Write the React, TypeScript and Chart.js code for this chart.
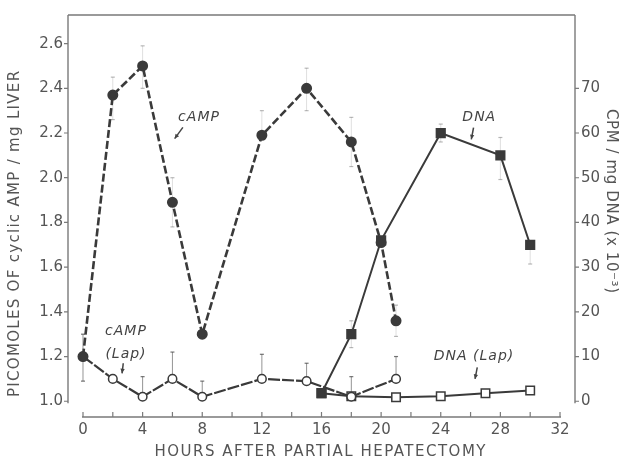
import React, { useEffect, useRef } from 'react';
import { Chart, registerables } from 'chart.js';

Chart.register(...registerables);

// ---- data ----
const campHours = [0, 2, 4, 6, 8, 12, 15, 18, 20, 21];
const campValues = [1.2, 2.37, 2.5, 1.89, 1.3, 2.19, 2.4, 2.16, 1.71, 1.36];
const campErrHigh = [null, 2.45, 2.59, 2.0, null, 2.3, 2.49, 2.27, null, 1.43];
const campErrLow = [null, 2.26, 2.4, 1.78, null, null, 2.3, 2.05, null, 1.29];

const campLapHours = [0, 2, 4, 6, 8, 12, 15, 18, 21];
const campLapValues = [1.2, 1.1, 1.02, 1.1, 1.02, 1.1, 1.09, 1.02, 1.1];
const campLapErrHigh = [1.3, null, 1.11, 1.22, 1.09, 1.21, 1.17, 1.11, 1.2];
const campLapErrLow = [1.09, null, null, null, null, null, null, null, null];

const dnaHours = [16, 18, 20, 24, 28, 30];
const dnaValues = [1.8, 15, 36, 60, 55, 35];
const dnaErrHigh = [null, 18, null, 62, 59, null];
const dnaErrLow = [null, 12, null, 58, 49.6, 30.7];

const dnaLapHours = [16, 18, 21, 24, 27, 30];
const dnaLapValues = [1.8, 1.1, 0.9, 1.1, 1.8, 2.4];

const hourTicks = [0, 2, 4, 6, 8, 10, 12, 14, 16, 18, 20, 22, 24, 26, 28, 30, 32];
const campTicks = [1.0, 1.2, 1.4, 1.6, 1.8, 2.0, 2.2, 2.4, 2.6];
const cpmTicks = [0, 10, 20, 30, 40, 50, 60, 70];

const xTitle = 'HOURS AFTER PARTIAL HEPATECTOMY';
const yLeftTitle = 'PICOMOLES OF cyclic AMP / mg LIVER';
const yRightTitle = 'CPM / mg DNA (x 10\u207B\u00B3)';

const INK = '#3a3a3a';
const TEXT = '#555555';
const AXIS = '#7a7a7a';
const FONT = '"DejaVu Sans", sans-serif';

const pts = (xs: number[], ys: number[]) => xs.map((x, i) => ({ x, y: ys[i] }));

const errorBars = [
  { axis: 'yL', xs: campHours, vals: campValues, hi: campErrHigh, lo: campErrLow, color: 'rgba(0,0,0,0.13)', cap: 'rgba(0,0,0,0.28)' },
  { axis: 'yL', xs: campLapHours, vals: campLapValues, hi: campLapErrHigh, lo: campLapErrLow, color: 'rgba(60,60,60,0.55)', cap: 'rgba(60,60,60,0.7)' },
  { axis: 'yR', xs: dnaHours, vals: dnaValues, hi: dnaErrHigh, lo: dnaErrLow, color: 'rgba(0,0,0,0.13)', cap: 'rgba(0,0,0,0.28)' },
];

const notes = [
  { axis: 'yL', lines: ['cAMP'], x: 7.75, y: 2.27, arrow: [6.7, 2.225, 6.15, 2.175] },
  { axis: 'yR', lines: ['DNA'], x: 26.55, y: 63.5, arrow: [26.2, 61.2, 26.05, 58.6] },
  { axis: 'yL', lines: ['cAMP', '(Lap)'], x: 2.85, y: 1.313, arrow: [2.7, 1.17, 2.62, 1.125] },
  { axis: 'yR', lines: ['DNA (Lap)'], x: 26.2, y: 10.1, arrow: [26.45, 7.6, 26.3, 5.0] },
];

const drawSpaced = (ctx: any, text: string, x: number, y: number, spacing: number) => {
  if ('letterSpacing' in ctx) {
    ctx.letterSpacing = `${spacing}px`;
    const w = ctx.measureText(text).width;
    ctx.textAlign = 'left';
    ctx.fillText(text, x - (w - spacing) / 2, y);
    ctx.letterSpacing = '0px';
  } else {
    ctx.textAlign = 'center';
    ctx.fillText(text, x, y);
  }
};

const decorPlugin = {
  id: 'decor',
  beforeDatasetsDraw(chart: any) {
    const { ctx, chartArea, scales } = chart;
    const x = scales.x, yL = scales.yL, yR = scales.yR;
    ctx.save();
    // error bars
    errorBars.forEach((eb) => {
      const ys = scales[eb.axis];
      eb.xs.forEach((h, i) => {
        const px = x.getPixelForValue(h);
        const base = ys.getPixelForValue(eb.vals[i]);
        [eb.hi[i], eb.lo[i]].forEach((e) => {
          if (e === null || e === undefined) return;
          const py = ys.getPixelForValue(e);
          ctx.strokeStyle = eb.color;
          ctx.lineWidth = 1;
          ctx.beginPath();
          ctx.moveTo(px, base);
          ctx.lineTo(px, py);
          ctx.stroke();
          ctx.strokeStyle = eb.cap;
          ctx.lineWidth = 1.2;
          ctx.beginPath();
          ctx.moveTo(px - 2, py);
          ctx.lineTo(px + 2, py);
          ctx.stroke();
        });
      });
    });
    // axis lines
    ctx.strokeStyle = AXIS;
    ctx.lineWidth = 1.4;
    ctx.beginPath();
    ctx.moveTo(chartArea.left, chartArea.top);
    ctx.lineTo(chartArea.right, chartArea.top);
    ctx.moveTo(chartArea.left, chartArea.top);
    ctx.lineTo(chartArea.left, yL.getPixelForValue(1.0) + 2);
    ctx.moveTo(chartArea.right, chartArea.top);
    ctx.lineTo(chartArea.right, yR.getPixelForValue(0) + 2);
    const y0 = chartArea.bottom;
    ctx.moveTo(x.getPixelForValue(0) - 1, y0);
    ctx.lineTo(x.getPixelForValue(32) + 1, y0);
    ctx.stroke();
    ctx.lineWidth = 1.2;
    ctx.beginPath();
    hourTicks.forEach((h) => {
      const px = x.getPixelForValue(h);
      ctx.moveTo(px, y0);
      ctx.lineTo(px, y0 - 5);
    });
    campTicks.forEach((v) => {
      const py = yL.getPixelForValue(v);
      ctx.moveTo(chartArea.left - 4, py);
      ctx.lineTo(chartArea.left, py);
    });
    cpmTicks.forEach((v) => {
      const py = yR.getPixelForValue(v);
      ctx.moveTo(chartArea.right, py);
      ctx.lineTo(chartArea.right + 4, py);
    });
    ctx.stroke();
    ctx.restore();
  },
  afterDatasetsDraw(chart: any) {
    const { ctx, scales } = chart;
    const x = scales.x;
    ctx.save();
    // annotations
    ctx.fillStyle = '#444';
    ctx.strokeStyle = '#444';
    ctx.font = `italic 14px ${FONT}`;
    ctx.textBaseline = 'middle';
    notes.forEach((n) => {
      const ys = scales[n.axis];
      const px = x.getPixelForValue(n.x);
      const py = ys.getPixelForValue(n.y);
      n.lines.forEach((t, i) => drawSpaced(ctx, t, px, py + i * 23, 1));
      const [ax1, ay1, ax2, ay2] = n.arrow;
      const x1 = x.getPixelForValue(ax1), y1 = ys.getPixelForValue(ay1);
      const x2 = x.getPixelForValue(ax2), y2 = ys.getPixelForValue(ay2);
      ctx.lineWidth = 1.5;
      ctx.beginPath();
      ctx.moveTo(x1, y1);
      ctx.lineTo(x2, y2);
      ctx.stroke();
      const ang = Math.atan2(y2 - y1, x2 - x1);
      ctx.beginPath();
      ctx.moveTo(x2, y2);
      ctx.lineTo(x2 - 5 * Math.cos(ang - 0.45), y2 - 5 * Math.sin(ang - 0.45));
      ctx.lineTo(x2 - 5 * Math.cos(ang + 0.45), y2 - 5 * Math.sin(ang + 0.45));
      ctx.closePath();
      ctx.fill();
    });
    // axis titles
    ctx.fillStyle = TEXT;
    ctx.font = `15px ${FONT}`;
    ctx.textBaseline = 'middle';
    drawSpaced(ctx, xTitle, 320, 452, 1.5);
    ctx.save();
    ctx.translate(15, 234);
    ctx.rotate(-Math.PI / 2);
    drawSpaced(ctx, yLeftTitle, 0, 0, 1.3);
    ctx.restore();
    ctx.save();
    ctx.translate(611, 201);
    ctx.rotate(Math.PI / 2);
    drawSpaced(ctx, yRightTitle, 0, 0, 0.6);
    ctx.restore();
    ctx.restore();
  },
};

export default function App() {
  const ref = useRef<HTMLCanvasElement>(null);
  useEffect(() => {
    if (!ref.current) return;
    const tickFont = { family: FONT, size: 15 };
    const chart = new Chart(ref.current, {
      type: 'line',
      data: {
        datasets: [
          {
            label: 'cAMP',
            data: pts(campHours, campValues),
            yAxisID: 'yL',
            borderColor: INK,
            borderWidth: 2.6,
            borderDash: [8, 3],
            pointStyle: 'circle',
            pointRadius: 4.2,
            pointBackgroundColor: INK,
            pointBorderColor: INK,
            tension: 0,
          },
          {
            label: 'DNA',
            data: pts(dnaHours, dnaValues),
            yAxisID: 'yR',
            borderColor: INK,
            borderWidth: 2,
            pointStyle: 'rect',
            pointRadius: 5.8,
            pointBackgroundColor: INK,
            pointBorderColor: INK,
            tension: 0,
          },
          {
            label: 'cAMP (Lap)',
            data: pts(campLapHours, campLapValues),
            yAxisID: 'yL',
            borderColor: INK,
            borderWidth: 2.2,
            borderDash: [12, 2],
            pointStyle: 'circle',
            pointRadius: 4.3,
            pointBorderWidth: 1.5,
            pointBackgroundColor: '#ffffff',
            pointBorderColor: INK,
            tension: 0,
          },
          {
            label: 'DNA (Lap)',
            data: pts(dnaLapHours, dnaLapValues),
            yAxisID: 'yR',
            borderColor: INK,
            borderWidth: 2,
            pointStyle: 'rect',
            pointRadius: 6,
            pointBorderWidth: 1.5,
            pointBackgroundColor: '#ffffff',
            pointBorderColor: INK,
            tension: 0,
          },
        ],
      },
      options: {
        animation: false,
        responsive: false,
        events: [],
        layout: { padding: { top: 9, left: 0, right: 0, bottom: 0 }, autoPadding: false },
        plugins: { legend: { display: false }, tooltip: { enabled: false } },
        scales: {
          x: {
            type: 'linear',
            min: -1.006,
            max: 33.006,
            afterBuildTicks: (s: any) => { s.ticks = hourTicks.map((v) => ({ value: v })); },
            afterFit: (s: any) => { s.height = 45; },
            grid: { display: false, drawTicks: false },
            border: { display: false },
            ticks: {
              font: tickFont,
              color: TEXT,
              padding: 4,
              maxRotation: 0,
              autoSkip: false,
              callback: (v: any) => (Number(v) % 4 === 0 ? String(v) : ''),
            },
          },
          yL: {
            type: 'linear',
            position: 'left',
            min: 0.9295,
            max: 2.728,
            afterBuildTicks: (s: any) => { s.ticks = campTicks.map((v) => ({ value: v })); },
            afterFit: (s: any) => { s.width = 68; },
            grid: { display: false, drawTicks: false },
            border: { display: false },
            ticks: {
              font: tickFont,
              color: TEXT,
              padding: 5,
              autoSkip: false,
              callback: (v: any) => Number(v).toFixed(1),
            },
          },
          yR: {
            type: 'linear',
            position: 'right',
            min: -3.52,
            max: 86.4,
            afterBuildTicks: (s: any) => { s.ticks = cpmTicks.map((v) => ({ value: v })); },
            afterFit: (s: any) => { s.width = 50; },
            grid: { display: false, drawTicks: false },
            border: { display: false },
            ticks: {
              font: tickFont,
              color: TEXT,
              padding: 6,
              autoSkip: false,
              callback: (v: any) => String(v),
            },
          },
        },
      },
      plugins: [decorPlugin],
    } as any);
    return () => chart.destroy();
  }, []);

  return (
    <div style={{ position: 'absolute', left: 0, top: 0, width: 625, height: 462, background: '#fff' }}>
      <canvas ref={ref} width={625} height={462} style={{ display: 'block' }} />
    </div>
  );
}
